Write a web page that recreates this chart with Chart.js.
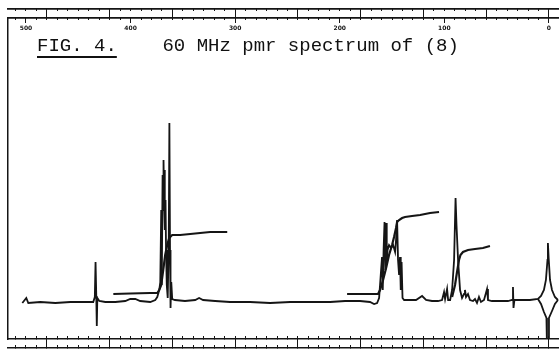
<!DOCTYPE html>
<html>
<head>
<meta charset="utf-8">
<script src="https://cdn.jsdelivr.net/npm/chart.js@4/dist/chart.umd.min.js"></script>
<style>
  html, body { margin: 0; padding: 0; background: #fff; }
  #wrap { position: relative; width: 559px; height: 350px; overflow: hidden; }
  #cv { position: absolute; left: 0; top: 0; }
  #title { position: absolute; left: 37px; top: 36px; font-family: "Liberation Mono", "DejaVu Sans Mono", monospace;
           font-size: 19px; color: #111; white-space: pre; line-height: 20px; letter-spacing: 0px; }
  #title u { text-decoration-thickness: 2px; text-underline-offset: 5px; }
</style>
</head>
<body>
<div id="wrap">
  <canvas id="cv" width="559" height="350"></canvas>
  <div id="title"><u>FIG. 4.</u>    60 MHz pmr spectrum of (8)</div>
</div>
<script>
// ---- data (x in Hz from TMS at 60 MHz, y in arbitrary intensity, baseline = 0) ----
const specHz = [503.5, 499.7, 497.8, 486.3, 472.0, 457.6, 443.3, 435.7, 434.2, 433.5, 432.8, 432.3, 431.8, 429.9,
  424.2, 414.6, 405.1, 400.3, 395.5, 390.8, 381.2, 376.4, 374.5, 372.6, 371.6, 370.7, 370.2, 369.4, 368.9, 368.5,
  368.0, 367.5, 367.1, 366.6, 366.1, 365.4, 364.5, 363.5, 362.9, 362.3, 361.8, 361.1, 360.2, 357.6, 348.0, 338.2,
  334.5, 330.7, 319.2, 304.9, 285.8, 266.7, 247.4, 228.3, 209.2, 194.9, 180.6, 171.1, 167.2, 164.3, 162.4, 161.5,
  160.5, 159.6, 158.9, 158.1, 157.2, 156.4, 155.7, 155.1, 154.3, 152.9, 151.0, 149.0, 147.1, 146.2, 145.2, 144.3,
  143.3, 142.4, 141.7, 140.9, 140.0, 138.5, 132.8, 127.1, 121.3, 117.5, 111.8, 106.1, 102.2, 100.3, 99.3, 97.4,
  96.4, 94.5, 92.6, 90.7, 89.3, 88.4, 86.9, 85.0, 83.1, 81.2, 80.3, 79.3, 77.4, 75.5, 72.6, 70.7, 68.8, 66.9,
  65.0, 62.1, 59.2, 58.3, 54.5, 46.8, 39.2, 35.3, 34.4, 33.9, 33.0, 27.7, 18.2, 10.5, 7.6, 4.8, 2.9, 1.4, 1.0,
  0.3, -1.0, -2.9, -5.7, -8.6];
const specInt = [-1, 4, -1, 0, -1, 0, 0, 0, 5, 40, 6, -24, 4, 1,
  0, 0, 1, 3, 3, 1, 0, 2, 5, 12, 20, 92, 17, 127, 92, 142,
  102, 132, 72, 102, 52, 17, 4, 62, 179, 52, -6, 20, 3, 2, 1, 2,
  4, 2, 1, 0, 0, -1, 0, 0, 0, 1, 1, 0, -2, -1, 4, 17,
  32, 45, 12, 52, 80, 32, 79, 37, 52, 57, 54, 57, 50, 62, 82, 42,
  27, 45, 12, 40, 4, 2, 2, 2, 6, 2, 1, 1, 2, 10, 3, 13,
  2, 2, 12, 42, 104, 77, 42, 12, 4, 8, 12, 5, 8, 2, 1, 3, -1, 5,
  0, 2, 13, 2, 1, 1, 1, 2, 15, -6, 2, 2, 2, 3, 6, 12, 22, 42, 59,
  44, 22, 12, 5, 2];
// lower (inverted) trace of the TMS reference signal
const tmsLowHz  = [10.5, 7.6, 4.8, 2.4, 1.9, 1.4, 1.0, 0.5, 0.0, -2.9, -5.7, -8.6];
const tmsLowInt = [3, -2, -10, -16, -45, -45, -45, -45, -16, -9, -2, 2];
// integral traces
const int1Hz  = [416.5, 400.3, 381.2, 374.5, 372.6, 370.7, 368.8, 366.9, 365.0, 363.1, 360.2, 352.6, 343.0, 333.5, 323.9, 307.6];
const int1Val = [8, 8.5, 9, 9, 12, 17, 32, 47, 57, 64, 67, 67, 68, 69, 70, 70];
const int2Hz  = [193.0, 175.8, 163.4, 161.5, 158.6, 155.7, 152.9, 150.0, 148.1, 146.2, 145.2, 143.3, 140.4, 137.6, 130.9, 123.2, 113.7, 105.1];
const int2Val = [8, 8, 8, 12, 22, 34, 47, 57, 65, 74, 80, 82, 84, 85, 86, 87, 89, 90];
const int3Hz  = [92.6, 89.8, 87.9, 86.0, 84.6, 82.2, 77.4, 70.7, 63.1, 56.4];
const int3Val = [5, 17, 30, 42, 47, 50, 52, 53, 54, 56];
// axis ranges / ticks
const hzRange = [-9.6, 517.2];      // left edge 517 Hz, right edge -9.6 Hz
const intRange = [-37, 284];
const labelStepHz = 100;           // labelled top scale: 500 ... 0 Hz
const ppmStepHz = 60;              // 1 ppm at 60 MHz
const minorStepHz = 10;

const pts = (xs, ys) => xs.map((x, i) => ({ x: x, y: ys[i] }));
const INK = '#151515';

function hAxis(position, weight, height, step, tickLen, opts) {
  opts = opts || {};
  return {
    type: 'linear', position: position, weight: weight, reverse: true,
    min: hzRange[0], max: hzRange[1],
    afterFit: s => { s.height = height; s.paddingLeft = 0; s.paddingRight = 0; },
    border: { display: opts.border !== false, color: INK, width: 1.5 },
    grid: { display: true, drawOnChartArea: false, drawTicks: true, tickLength: tickLen,
            tickColor: INK, tickWidth: opts.tickWidth || 1 },
    ticks: Object.assign({ display: false, stepSize: step, autoSkip: false, includeBounds: false,
            maxRotation: 0, minRotation: 0 }, opts.ticks || {})
  };
}

const line = (data, w) => ({ data: data, borderColor: INK, borderWidth: w, pointRadius: 0,
  tension: 0, fill: false, xAxisID: 'x', yAxisID: 'y' });

new Chart(document.getElementById('cv'), {
  type: 'line',
  data: {
    datasets: [
      line(pts(specHz, specInt), 1.8),
      line(pts(tmsLowHz, tmsLowInt), 1.8),
      line(pts(int1Hz, int1Val), 2.2),
      line(pts(int2Hz, int2Val), 2.2),
      line(pts(int3Hz, int3Val), 2.2)
    ]
  },
  options: {
    responsive: false, animation: false, devicePixelRatio: 1,
    layout: { padding: 0 },
    plugins: { legend: { display: false }, tooltip: { enabled: false }, title: { display: false } },
    scales: {
      t1minor: hAxis('top', 4, 9, minorStepHz, -2),
      t1major: hAxis('top', 3, 0, ppmStepHz, -9),
      t2minor: hAxis('top', 2, 9, minorStepHz, -2),
      t2major: hAxis('top', 1, 0, labelStepHz, -5, {
        ticks: { display: true, mirror: true, color: INK, padding: 7,
                 font: { family: 'DejaVu Sans', size: 6, weight: 'bold' },
                 callback: v => String(Math.round(v)) }
      }),
      b1minor: hAxis('bottom', 1, 9, minorStepHz, -3),
      b2minor: hAxis('bottom', 2, 0, minorStepHz, -3),
      x: hAxis('bottom', 3, 2, ppmStepHz, -12, { border: false }),
      y: {
        type: 'linear', position: 'left', min: intRange[0], max: intRange[1],
        afterFit: s => { s.width = 8; s.paddingTop = 0; s.paddingBottom = 0; },
        border: { display: true, color: INK, width: 1.5 },
        grid: { display: false, drawOnChartArea: false, drawTicks: false },
        ticks: { display: false }
      }
    }
  }
});
</script>
</body>
</html>
